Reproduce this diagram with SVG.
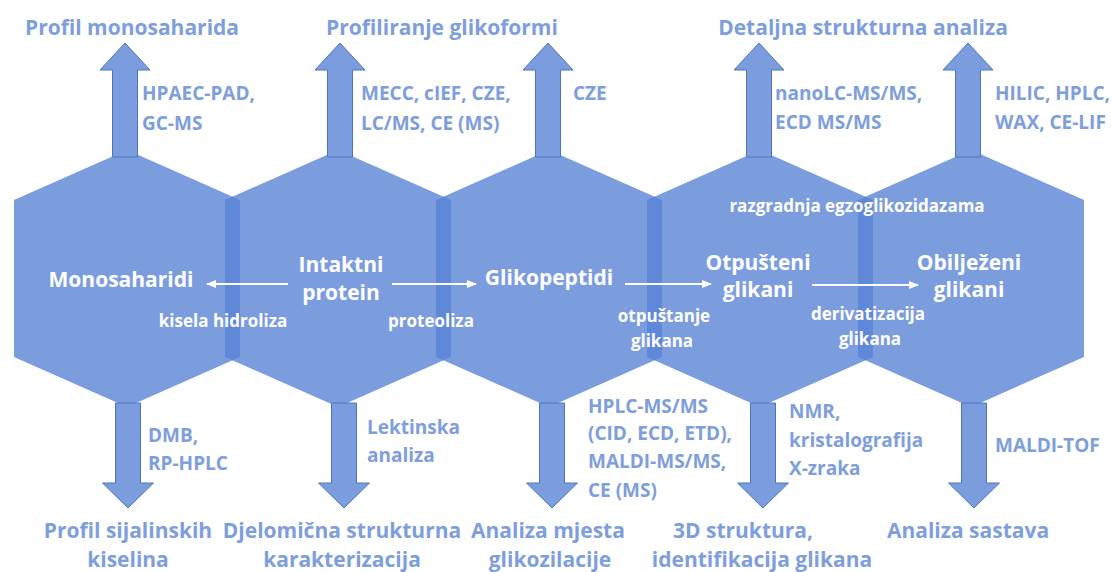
<svg xmlns="http://www.w3.org/2000/svg" width="1112" height="572" viewBox="0 0 1112 572">
<defs>
<style>
.hex{fill:#7B9DDE;}
.ov{fill:#5F88D8;}
.arr{fill:#7B9DDE;stroke:#4F74BF;stroke-width:1;}
.t{font-family:"Open Sans","Liberation Sans",sans-serif;font-weight:bold;fill:#7E9EDC;}
.title{font-size:21px;text-anchor:middle;}
.meth{font-size:19px;}
.node{font-family:"Open Sans","Liberation Sans",sans-serif;font-weight:bold;fill:#ffffff;font-size:21px;text-anchor:middle;}
.lbl{font-family:"Open Sans","Liberation Sans",sans-serif;font-weight:bold;fill:#ffffff;font-size:17px;text-anchor:middle;}
.con{stroke:#ffffff;stroke-width:2;fill:none;marker-end:url(#ah);}
</style>
<marker id="ah" viewBox="0 0 10 10" refX="9" refY="5" markerWidth="5" markerHeight="5" orient="auto" markerUnits="strokeWidth">
<path d="M0,1 L10,5 L0,9 Z" fill="#ffffff"/>
</marker>
</defs>

<g id="hex-monosaharidi"><polygon class="hex" points="127,150 240,200 240,357 127,407 14,357 14,200"/></g>
<g id="hex-intaktni-protein"><polygon class="hex" points="338,150 451,200 451,357 338,407 225,357 225,200"/></g>
<g id="hex-glikopeptidi"><polygon class="hex" points="549,150 662,200 662,357 549,407 436,357 436,200"/></g>
<g id="hex-otpusteni-glikani"><polygon class="hex" points="760,150 873,200 873,357 760,407 647,357 647,200"/></g>
<g id="hex-obiljezeni-glikani"><polygon class="hex" points="971,150 1084,200 1084,357 971,407 858,357 858,200"/></g>

<g id="overlaps">
<polygon class="ov" points="225,200 232.5,196.7 240,200 240,357 232.5,360.3 225,357"/>
<polygon class="ov" points="436,200 443.5,196.7 451,200 451,357 443.5,360.3 436,357"/>
<polygon class="ov" points="647,200 654.5,196.7 662,200 662,357 654.5,360.3 647,357"/>
<polygon class="ov" points="858,200 865.5,196.7 873,200 873,357 865.5,360.3 858,357"/>
</g>

<g id="connectors">
<polygon class="arr" points="125,43 150,70 137.5,70 137.5,157 112.5,157 112.5,70 100,70"/>
<polygon class="arr" points="340,43 365,70 352.5,70 352.5,157 327.5,157 327.5,70 315,70"/>
<polygon class="arr" points="548,43 573,70 560.5,70 560.5,157 535.5,157 535.5,70 523,70"/>
<polygon class="arr" points="759,43 784,70 771.5,70 771.5,157 746.5,157 746.5,70 734,70"/>
<polygon class="arr" points="968,43 993,70 980.5,70 980.5,157 955.5,157 955.5,70 943,70"/>

<polygon class="arr" points="128,508 153.5,483 140.5,483 140.5,403 115.5,403 115.5,483 102.5,483"/>
<polygon class="arr" points="344,508 369.5,483 356.5,483 356.5,403 331.5,403 331.5,483 318.5,483"/>
<polygon class="arr" points="552,508 577.5,483 564.5,483 564.5,403 539.5,403 539.5,483 526.5,483"/>
<polygon class="arr" points="763,508 788.5,483 775.5,483 775.5,403 750.5,403 750.5,483 737.5,483"/>
<polygon class="arr" points="974,508 999.5,483 986.5,483 986.5,403 961.5,403 961.5,483 948.5,483"/>

<line class="con" x1="288" y1="284" x2="207" y2="284"/>
<line class="con" x1="392" y1="284" x2="476" y2="284"/>
<line class="con" x1="625" y1="284" x2="711" y2="284"/>
<line class="con" x1="812" y1="285" x2="918" y2="285"/>
</g>

<g id="node-labels">
<text class="node" x="121" y="287">Monosaharidi</text>
<text class="node" x="341" y="272">Intaktni</text>
<text class="node" x="341" y="300">protein</text>
<text class="node" x="549" y="285">Glikopeptidi</text>
<text class="node" x="758" y="270">Otpušteni</text>
<text class="node" x="758" y="297">glikani</text>
<text class="node" x="969" y="270">Obilježeni</text>
<text class="node" x="969" y="297">glikani</text>
</g>

<g id="process-labels">
<text class="lbl" x="223" y="327">kisela hidroliza</text>
<text class="lbl" x="431" y="327">proteoliza</text>
<text class="lbl" x="664" y="322">otpuštanje</text>
<text class="lbl" x="662" y="347">glikana</text>
<text class="lbl" x="857" y="212">razgradnja egzoglikozidazama</text>
<text class="lbl" x="868" y="320">derivatizacija</text>
<text class="lbl" x="870" y="345">glikana</text>
</g>

<g id="top-results">
<text class="t title" x="132" y="35">Profil monosaharida</text>
<text class="t title" x="442" y="35">Profiliranje glikoformi</text>
<text class="t title" x="863" y="35">Detaljna strukturna analiza</text>
</g>

<g id="top-methods">
<text class="t meth" x="142" y="100">HPAEC-PAD,</text>
<text class="t meth" x="142" y="130">GC-MS</text>
<text class="t meth" x="361" y="100">MECC, cIEF, CZE,</text>
<text class="t meth" x="361" y="130">LC/MS, CE (MS)</text>
<text class="t meth" x="573" y="100">CZE</text>
<text class="t meth" x="775" y="100">nanoLC-MS/MS,</text>
<text class="t meth" x="775" y="129">ECD MS/MS</text>
<text class="t meth" x="995" y="100">HILIC, HPLC,</text>
<text class="t meth" x="995" y="129">WAX, CE-LIF</text>
</g>

<g id="bottom-methods">
<text class="t meth" x="148" y="442">DMB,</text>
<text class="t meth" x="148" y="470">RP-HPLC</text>
<text class="t meth" x="367" y="434">Lektinska</text>
<text class="t meth" x="367" y="462">analiza</text>
<text class="t meth" x="588" y="413">HPLC-MS/MS</text>
<text class="t meth" x="588" y="440">(CID, ECD, ETD),</text>
<text class="t meth" x="588" y="468">MALDI-MS/MS,</text>
<text class="t meth" x="588" y="497">CE (MS)</text>
<text class="t meth" x="789" y="418">NMR,</text>
<text class="t meth" x="789" y="447">kristalografija</text>
<text class="t meth" x="789" y="475">X-zraka</text>
<text class="t meth" x="995" y="452">MALDI-TOF</text>
</g>

<g id="bottom-results">
<text class="t title" x="128" y="538">Profil sijalinskih</text>
<text class="t title" x="128" y="567">kiselina</text>
<text class="t title" x="342" y="538">Djelomična strukturna</text>
<text class="t title" x="342" y="567">karakterizacija</text>
<text class="t title" x="548" y="538">Analiza mjesta</text>
<text class="t title" x="550" y="567">glikozilacije</text>
<text class="t title" x="743" y="538">3D struktura,</text>
<text class="t title" x="762" y="567">identifikacija glikana</text>
<text class="t title" x="968" y="538">Analiza sastava</text>
</g>
</svg>
